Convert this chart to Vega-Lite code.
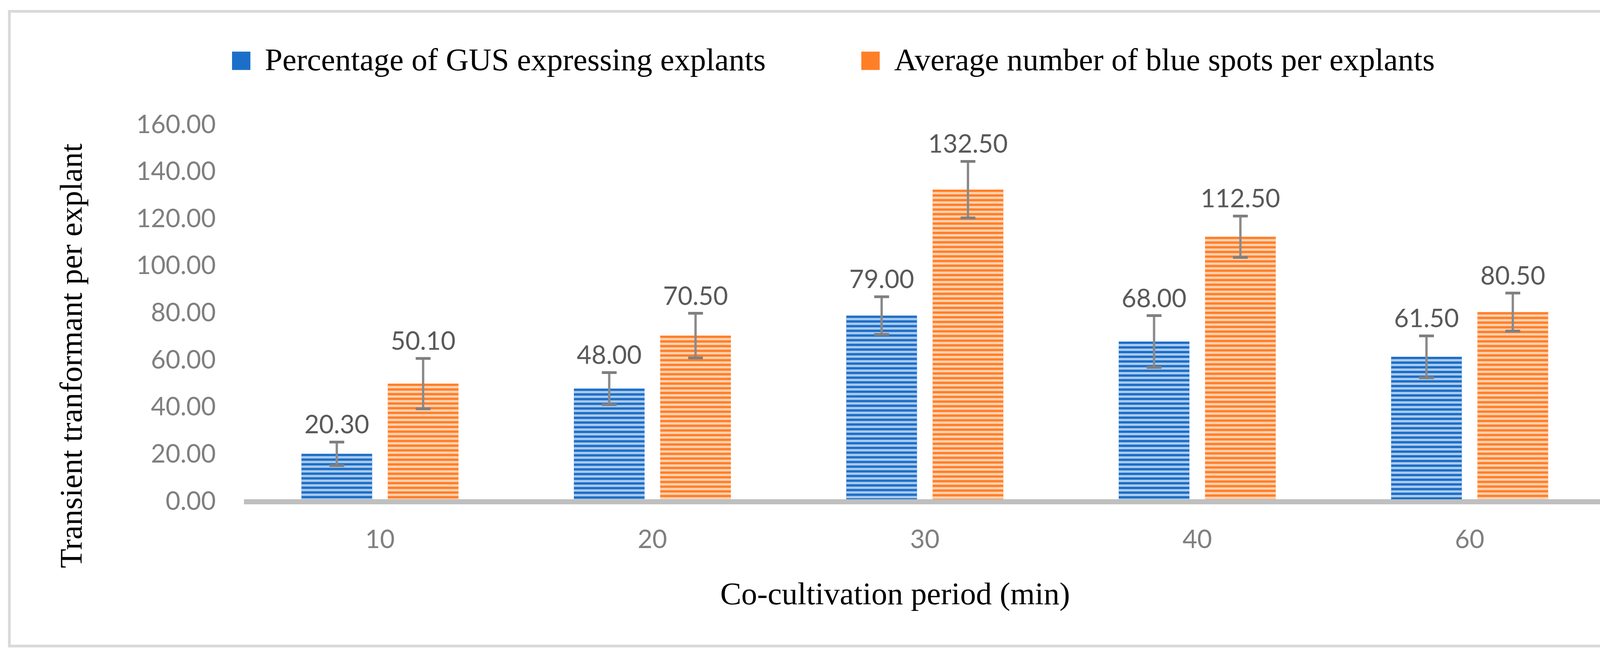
{
  "$schema": "https://vega.github.io/schema/vega-lite/v6.json",
  "usermeta": {"embedOptions": {"actions": false}},
  "width": 4178,
  "height": 1626,
  "autosize": {"type": "none"},
  "padding": {"left": 24, "top": 29, "right": 20, "bottom": 23},
  "background": "white",
  "config": {"view": {"stroke": "#D9D9D9", "strokeWidth": 7}},
  "data": {
    "values": [
      {"period": "10", "series": "Percentage of GUS expressing explants", "value": 20.3, "lo": 15.3, "hi": 25.3},
      {"period": "10", "series": "Average number of blue spots per explants", "value": 50.1, "lo": 39.4, "hi": 60.8},
      {"period": "20", "series": "Percentage of GUS expressing explants", "value": 48.0, "lo": 41.2, "hi": 54.8},
      {"period": "20", "series": "Average number of blue spots per explants", "value": 70.5, "lo": 61.0, "hi": 80.0},
      {"period": "30", "series": "Percentage of GUS expressing explants", "value": 79.0, "lo": 71.0, "hi": 87.0},
      {"period": "30", "series": "Average number of blue spots per explants", "value": 132.5, "lo": 120.5, "hi": 144.5},
      {"period": "40", "series": "Percentage of GUS expressing explants", "value": 68.0, "lo": 57.0, "hi": 79.0},
      {"period": "40", "series": "Average number of blue spots per explants", "value": 112.5, "lo": 103.7, "hi": 121.3},
      {"period": "60", "series": "Percentage of GUS expressing explants", "value": 61.5, "lo": 52.6, "hi": 70.4},
      {"period": "60", "series": "Average number of blue spots per explants", "value": 80.5, "lo": 72.4, "hi": 88.6}
    ]
  },
  "encoding": {
    "x": {
      "field": "period",
      "type": "nominal",
      "sort": ["10", "20", "30", "40", "60"],
      "scale": {"type": "band", "range": [600, 4087], "paddingInner": 0.4236, "paddingOuter": 0.2118},
      "axis": {
        "title": "Co-cultivation period (min)",
        "labelAngle": 0,
        "ticks": false,
        "tickSize": 0,
        "grid": false,
        "domain": true,
        "domainColor": "#BFBFBF",
        "domainWidth": 13,
        "offset": -370,
        "labelPadding": 118,
        "labelBaseline": "alphabetic",
        "labelFont": "Lato",
        "labelFontSize": 65,
        "labelColor": "#7F7F7F",
        "titleFont": "Liberation Serif",
        "titleFontSize": 81,
        "titleFontWeight": "normal",
        "titleColor": "#000000",
        "titleX": 2267,
        "titleY": 262,
        "titleAlign": "center",
        "titleBaseline": "alphabetic",
        "zindex": 1
      }
    },
    "xOffset": {
      "field": "series",
      "type": "nominal",
      "sort": ["Percentage of GUS expressing explants", "Average number of blue spots per explants"],
      "scale": {"paddingInner": 0.181, "paddingOuter": 0}
    },
    "y": {
      "field": "value",
      "type": "quantitative",
      "scale": {"domain": [0, 160], "range": [1256, 291], "nice": false, "zero": true},
      "axis": {
        "title": "Transient tranformant per explant",
        "values": [0, 20, 40, 60, 80, 100, 120, 140, 160],
        "format": ".2f",
        "grid": false,
        "domain": false,
        "ticks": false,
        "offset": -600,
        "labelPadding": 72,
        "labelLimit": 0,
        "labelFont": "Lato",
        "labelFontSize": 65,
        "labelColor": "#7F7F7F",
        "titleFont": "Liberation Serif",
        "titleFontSize": 81,
        "titleFontWeight": "normal",
        "titleColor": "#000000",
        "titleX": -416,
        "titleY": 882,
        "titleAlign": "center",
        "titleBaseline": "alphabetic",
        "titleLimit": 0
      }
    }
  },
  "layer": [
    {
      "mark": {"type": "bar"},
      "encoding": {
        "color": {
          "field": "series",
          "type": "nominal",
          "scale": {
            "domain": ["Percentage of GUS expressing explants", "Average number of blue spots per explants"],
            "range": ["#1C6FC8", "#FF7F27"]
          },
          "legend": {
            "orient": "none",
            "legendX": 553,
            "legendY": 86,
            "direction": "horizontal",
            "title": null,
            "symbolType": "square",
            "symbolSize": 2209,
            "symbolStrokeWidth": 0,
            "symbolOpacity": 1,
            "labelFont": "Liberation Serif",
            "labelFontSize": 81,
            "labelColor": "#000000",
            "labelOffset": 20,
            "columnPadding": 227,
            "labelLimit": 0
          }
        }
      }
    },
    {
      "mark": {"type": "rule", "strokeWidth": 181, "strokeDash": [6, 6], "strokeDashOffset": 6, "opacity": 0.85},
      "encoding": {
        "y2": {"datum": 0},
        "stroke": {
          "field": "series",
          "type": "nominal",
          "scale": {
            "domain": ["Percentage of GUS expressing explants", "Average number of blue spots per explants"],
            "range": ["#C6DAF2", "#FFE1CC"]
          },
          "legend": null
        }
      }
    },
    {
      "mark": {"type": "rule", "strokeWidth": 6, "color": "#8A8A8A"},
      "encoding": {
        "y": {"field": "lo", "type": "quantitative"},
        "y2": {"field": "hi"}
      }
    },
    {
      "mark": {"type": "tick", "size": 38, "thickness": 7, "color": "#7F7F7F", "opacity": 1},
      "encoding": {
        "y": {"field": "lo", "type": "quantitative"}
      }
    },
    {
      "mark": {"type": "tick", "size": 38, "thickness": 7, "color": "#7F7F7F", "opacity": 1},
      "encoding": {
        "y": {"field": "hi", "type": "quantitative"}
      }
    },
    {
      "mark": {"type": "text", "baseline": "alphabetic", "align": "center", "dy": -22, "font": "Lato", "fontSize": 65, "color": "#595959"},
      "encoding": {
        "y": {"field": "hi", "type": "quantitative"},
        "text": {"field": "value", "type": "quantitative", "format": ".2f"}
      }
    }
  ]
}
